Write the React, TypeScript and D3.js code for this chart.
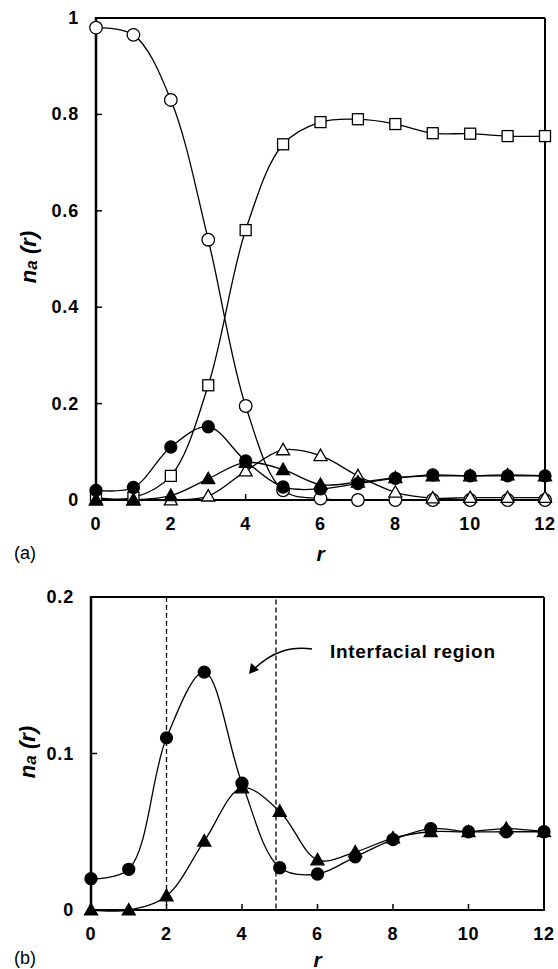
import React from "react";
import * as d3 from "d3";

const rValues = [0, 1, 2, 3, 4, 5, 6, 7, 8, 9, 10, 11, 12];
const openCircle = [0.98, 0.965, 0.83, 0.54, 0.195, 0.02, 0.003, 0, 0, 0, 0, 0, 0];
const openSquare = [0.005, 0.005, 0.05, 0.238, 0.56, 0.738, 0.784, 0.79, 0.78, 0.761, 0.76, 0.755, 0.755];
const filledCircle = [0.02, 0.026, 0.11, 0.152, 0.081, 0.027, 0.023, 0.034, 0.045, 0.052, 0.05, 0.05, 0.05];
const filledTriangle = [0, 0, 0.009, 0.044, 0.078, 0.063, 0.032, 0.037, 0.046, 0.05, 0.05, 0.052, 0.05];
const openTriangle = [0, 0, 0, 0.008, 0.06, 0.104, 0.092, 0.05, 0.016, 0.004, 0.005, 0.005, 0.005];

const xTicks = [0, 2, 4, 6, 8, 10, 12];
const yTicksA = [0, 0.2, 0.4, 0.6, 0.8, 1];
const yTicksB = [0, 0.1, 0.2];
const regionBounds = [2, 4.9];
const annotation = "Interfacial region";

type Marker = "circle" | "square" | "triangle";
type Series = { values: number[]; marker: Marker; filled: boolean };

const seriesA: Series[] = [
  { values: openCircle, marker: "circle", filled: false },
  { values: openSquare, marker: "square", filled: false },
  { values: openTriangle, marker: "triangle", filled: false },
  { values: filledTriangle, marker: "triangle", filled: true },
  { values: filledCircle, marker: "circle", filled: true },
];
const seriesB: Series[] = [
  { values: filledTriangle, marker: "triangle", filled: true },
  { values: filledCircle, marker: "circle", filled: true },
];

const FONT = "'Liberation Sans', Arial, sans-serif";

function MarkerShape({ x, y, marker, filled }: { x: number; y: number; marker: Marker; filled: boolean }) {
  const fill = filled ? "#000" : "#fff";
  if (marker === "circle") {
    return <circle cx={x} cy={y} r={filled ? 6 : 6.3} fill={fill} stroke="#000" strokeWidth={1.3} />;
  }
  if (marker === "square") {
    return <rect x={x - 5.5} y={y - 5.5} width={11} height={11} fill={fill} stroke="#000" strokeWidth={1.3} />;
  }
  const s = 6.5;
  return (
    <path
      d={`M${x},${y - s}L${x + s},${y + s * 0.75}L${x - s},${y + s * 0.75}Z`}
      fill={fill}
      stroke="#000"
      strokeWidth={1.3}
    />
  );
}

function Panel({
  x0, x1, yTop, yBottom, yMax, yTicks, series, tag, tagY, rY, labelX, labelY, region,
}: {
  x0: number; x1: number; yTop: number; yBottom: number; yMax: number; yTicks: number[];
  series: Series[]; tag: string; tagY: number; rY: number; labelX: number; labelY: number; region?: boolean;
}) {
  const x = d3.scaleLinear().domain([0, 12]).range([x0, x1]);
  const y = d3.scaleLinear().domain([0, yMax]).range([yBottom, yTop]);
  const line = d3
    .line<number>()
    .x((_, i) => x(rValues[i]))
    .y((d) => y(d))
    .curve(d3.curveCatmullRom.alpha(0.5));
  return (
    <g>
      {region && (
        <rect
          x={x(regionBounds[0])}
          y={y(yMax)}
          width={x(regionBounds[1]) - x(regionBounds[0])}
          height={y(0) - y(yMax)}
          fill="none"
          stroke="#000"
          strokeWidth={1.3}
          strokeDasharray="5,3"
        />
      )}
      <line x1={x0} x2={x1} y1={yTop} y2={yTop} stroke="#000" strokeWidth={2} />
      <line x1={x1} x2={x1} y1={yTop} y2={yBottom} stroke="#000" strokeWidth={2} />
      <line x1={x0} x2={x1 + 1} y1={yBottom} y2={yBottom} stroke="#000" strokeWidth={2.2} />
      <line x1={x0} x2={x0} y1={yTop - 1} y2={yBottom + 1} stroke="#000" strokeWidth={2.5} />
      {yTicks.map((t) => (
        <g key={"y" + t}>
          {t > 0 && t < yMax && <line x1={x0} x2={x0 + 6} y1={y(t)} y2={y(t)} stroke="#000" strokeWidth={1.5} />}
          <text
            x={x0 - 17}
            y={y(t)}
            textAnchor="end"
            dominantBaseline="central"
            fontFamily={FONT}
            fontWeight="bold"
            fontSize={18}
            letterSpacing={0.8}
          >
            {String(t)}
          </text>
        </g>
      ))}
      {xTicks.map((t) => (
        <g key={"x" + t}>
          {t > 0 && t < 12 && <line x1={x(t)} x2={x(t)} y1={yBottom} y2={yBottom - 6} stroke="#000" strokeWidth={1.5} />}
          <text
            x={x(t)}
            y={yBottom + 24}
            textAnchor="middle"
            dominantBaseline="central"
            fontFamily={FONT}
            fontWeight="bold"
            fontSize={18}
            letterSpacing={0.8}
          >
            {String(t)}
          </text>
        </g>
      ))}
      {series.map((s, i) => (
        <path key={"l" + i} d={line(s.values) || ""} fill="none" stroke="#000" strokeWidth={1.3} />
      ))}
      {series.map((s, i) => (
        <g key={"m" + i}>
          {s.values.map((v, j) => (
            <MarkerShape key={j} x={x(rValues[j])} y={y(v)} marker={s.marker} filled={s.filled} />
          ))}
        </g>
      ))}
      <text
        x={x(6)}
        y={rY}
        textAnchor="middle"
        dominantBaseline="central"
        fontFamily={FONT}
        fontWeight="bold"
        fontStyle="italic"
        fontSize={21}
      >
        r
      </text>
      <text
        transform={`translate(${labelX},${labelY}) rotate(-90)`}
        textAnchor="middle"
        fontFamily={FONT}
        fontWeight="bold"
        fontStyle="italic"
        fontSize={22}
      >
        n<tspan fontSize={17} dy={1}>a</tspan>
        <tspan dy={-1}> (r)</tspan>
      </text>
      <text x={14} y={tagY} dominantBaseline="central" fontFamily={FONT} fontSize={18}>
        {tag}
      </text>
    </g>
  );
}

export default function App() {
  return (
    <svg width={558} height={969} style={{ position: "absolute", left: 0, top: 0 }}>
      <rect width={558} height={969} fill="#fff" />
      <Panel
        x0={96}
        x1={545}
        yTop={18}
        yBottom={500}
        yMax={1}
        yTicks={yTicksA}
        series={seriesA}
        tag="(a)"
        tagY={553}
        rY={553}
        labelX={36}
        labelY={257}
      />
      <Panel
        x0={91}
        x1={544}
        yTop={597}
        yBottom={910}
        yMax={0.2}
        yTicks={yTicksB}
        series={seriesB}
        tag="(b)"
        tagY={958}
        rY={959}
        labelX={35}
        labelY={752}
        region
      />
      <text
        x={330}
        y={651}
        dominantBaseline="central"
        fontFamily={FONT}
        fontWeight="bold"
        fontSize={19}
        letterSpacing={0.7}
      >
        {annotation}
      </text>
      <path d="M312,649 C290,646 272,652 254,669" fill="none" stroke="#000" strokeWidth={1.4} />
      <path d="M249,674 L251,663 L259,670 Z" fill="#000" />
    </svg>
  );
}
